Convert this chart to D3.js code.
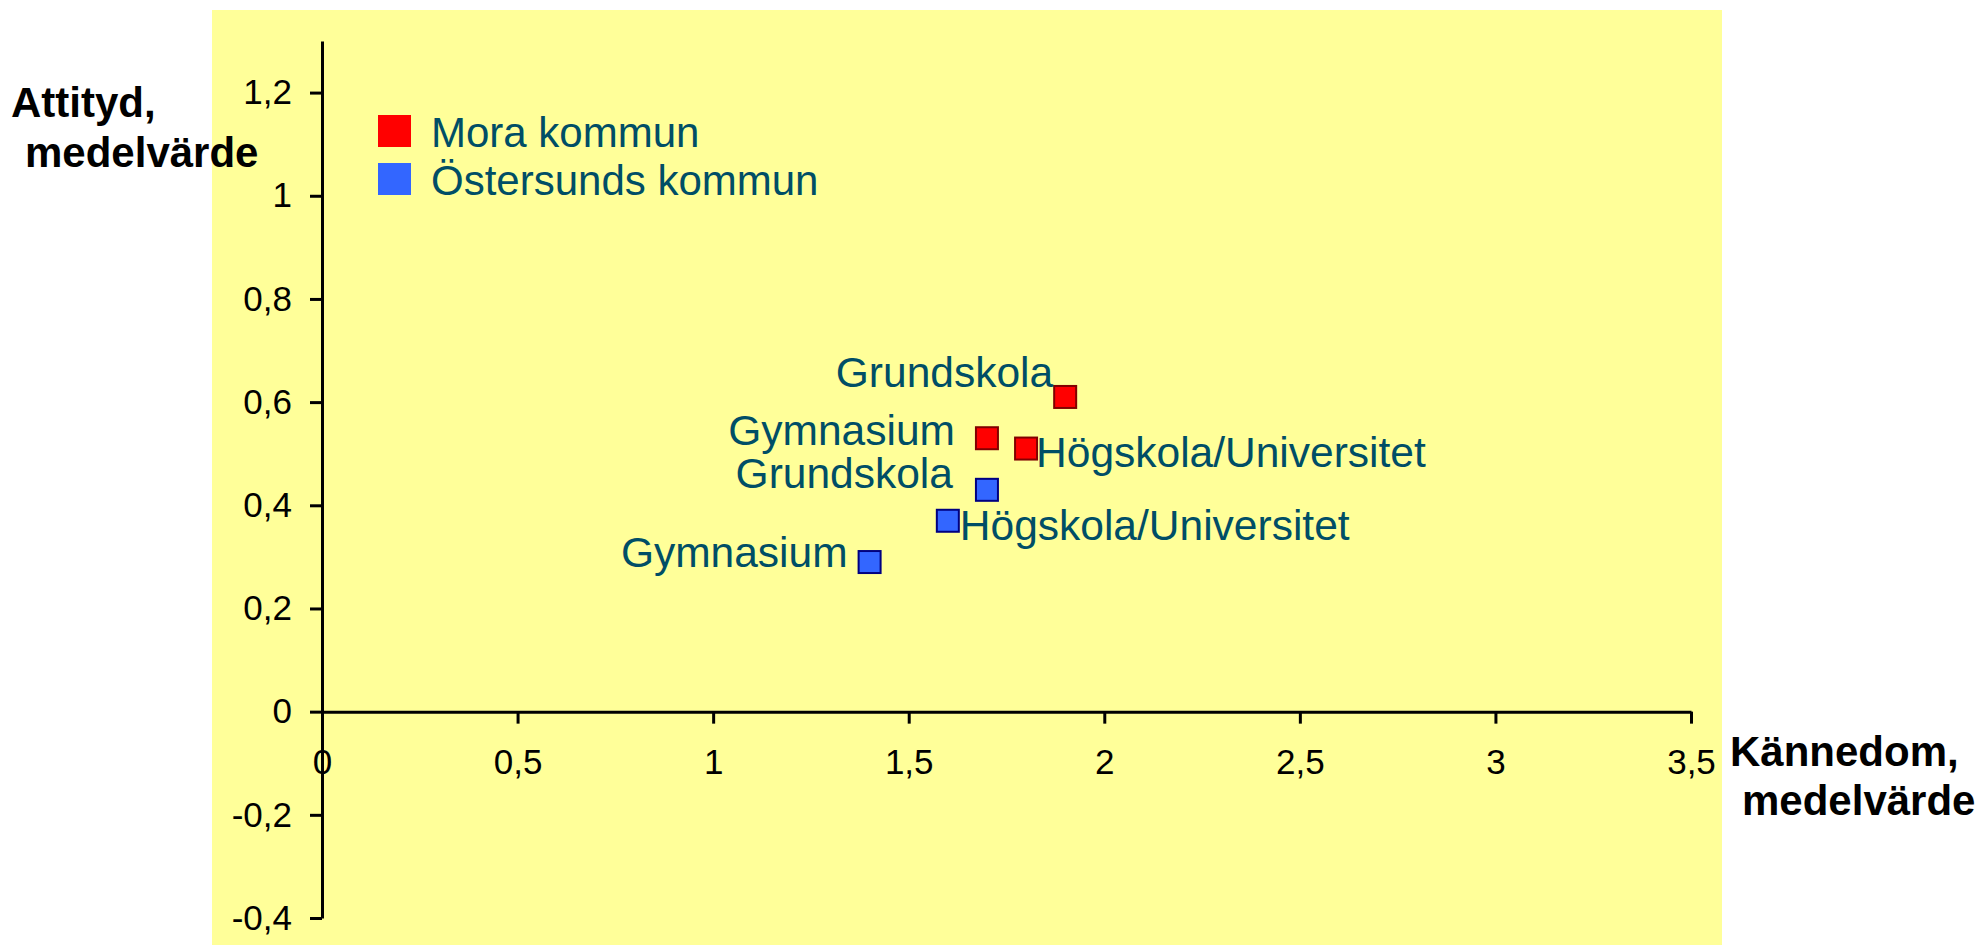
<!DOCTYPE html>
<html>
<head>
<meta charset="utf-8">
<script src="https://cdn.jsdelivr.net/npm/d3@7"></script>
<style>
  body { margin: 0; background: #fff; }
  svg text { font-family: "Liberation Sans", Arial, sans-serif; }
</style>
</head>
<body>
<div id="chart"></div>
<script>
// chart data
var seriesNames = ["Mora kommun", "Östersunds kommun"];
var categories = ["Grundskola", "Gymnasium", "Högskola/Universitet"];
var moraX = [1.9, 1.7, 1.8];
var moraY = [0.61, 0.53, 0.51];
var ostX = [1.7, 1.4, 1.6];
var ostY = [0.43, 0.29, 0.37];
var xTicks = [0, 0.5, 1, 1.5, 2, 2.5, 3, 3.5];
var yTicks = [-0.4, -0.2, 0, 0.2, 0.4, 0.6, 0.8, 1, 1.2];

var svgWidth = 1982;
var svgHeight = 945;

var svg = d3.select("#chart")
    .append("svg")
    .attr("width", svgWidth)
    .attr("height", svgHeight);

// yellow plot background
svg.append("rect")
    .attr("x", 212)
    .attr("y", 10)
    .attr("width", 1510)
    .attr("height", 935)
    .attr("fill", "#FFFF99");

var xScale = d3.scaleLinear().domain([0, 3.5]).range([322, 1691]);
var yScale = d3.scaleLinear().domain([-0.4, 1.3]).range([918, 41]);

var fmt = function(v) { return String(v).replace(".", ","); };

// axes
var xAxis = svg.append("g")
    .attr("transform", `translate(0, ${yScale(0)})`)
    .call(d3.axisBottom(xScale).tickValues(xTicks).tickFormat(fmt)
        .tickSize(12).tickSizeOuter(0).tickPadding(26));

var yAxis = svg.append("g")
    .attr("transform", `translate(${xScale(0)}, 0)`)
    .call(d3.axisLeft(yScale).tickValues(yTicks).tickFormat(fmt)
        .tickSize(12).tickSizeOuter(0).tickPadding(18));

[xAxis, yAxis].forEach(function(ax) {
    ax.select(".domain").attr("stroke", "#000").attr("stroke-width", 3);
    ax.selectAll(".tick line").attr("stroke", "#000").attr("stroke-width", 3);
    ax.selectAll(".tick text")
        .attr("fill", "#000")
        .style("font-size", "35px")
        .style("font-family", "'Liberation Sans', Arial, sans-serif");
});

// axis titles
var titleStyle = function(t) {
    t.style("font-size", "42px").style("font-weight", "bold").attr("fill", "#000");
};
svg.append("text").attr("x", 11).attr("y", 117).text("Attityd,").call(titleStyle);
svg.append("text").attr("x", 25).attr("y", 167).text("medelvärde").call(titleStyle);
svg.append("text").attr("x", 1730).attr("y", 766).text("Kännedom,").call(titleStyle);
svg.append("text").attr("x", 1742).attr("y", 815).text("medelvärde").call(titleStyle);

// points
var colors = ["#FF0000", "#3366FF"];
var borders = ["#800000", "#000080"];
var textColor = "#004E66";

var points = [];
categories.forEach(function(c, i) {
    points.push({s: 0, cat: c, x: moraX[i], y: moraY[i]});
});
categories.forEach(function(c, i) {
    points.push({s: 1, cat: c, x: ostX[i], y: ostY[i]});
});

// label placement per point (anchor, dx, dy)
var labelPos = {
    "0-Grundskola": ["end", -12, -10],
    "0-Gymnasium": ["end", -32, 7],
    "0-Högskola/Universitet": ["start", 10, 18],
    "1-Grundskola": ["end", -34, -2],
    "1-Gymnasium": ["end", -22, 5],
    "1-Högskola/Universitet": ["start", 12, 19]
};

var markW = 22, markH = 22;

svg.selectAll(".pt")
    .data(points)
    .enter()
    .append("rect")
    .attr("class", "pt")
    .attr("x", d => xScale(d.x) - markW / 2)
    .attr("y", d => yScale(d.y) - markH / 2)
    .attr("width", markW)
    .attr("height", markH)
    .attr("fill", d => colors[d.s])
    .attr("stroke", d => borders[d.s])
    .attr("stroke-width", 2);

svg.selectAll(".ptLabel")
    .data(points)
    .enter()
    .append("text")
    .attr("class", "ptLabel")
    .attr("x", d => xScale(d.x) + labelPos[d.s + "-" + d.cat][1])
    .attr("y", d => yScale(d.y) + labelPos[d.s + "-" + d.cat][2])
    .attr("text-anchor", d => labelPos[d.s + "-" + d.cat][0])
    .attr("fill", textColor)
    .style("font-size", "42.5px")
    .text(d => d.cat);

// legend
var legend = svg.append("g").attr("transform", "translate(378, 115)");
seriesNames.forEach(function(name, i) {
    legend.append("rect")
        .attr("x", 0)
        .attr("y", i * 48)
        .attr("width", 33)
        .attr("height", 32)
        .attr("fill", colors[i]);
    legend.append("text")
        .attr("x", 53)
        .attr("y", i * 48 + 32)
        .attr("fill", textColor)
        .style("font-size", "42px")
        .text(name);
});
</script>
</body>
</html>
